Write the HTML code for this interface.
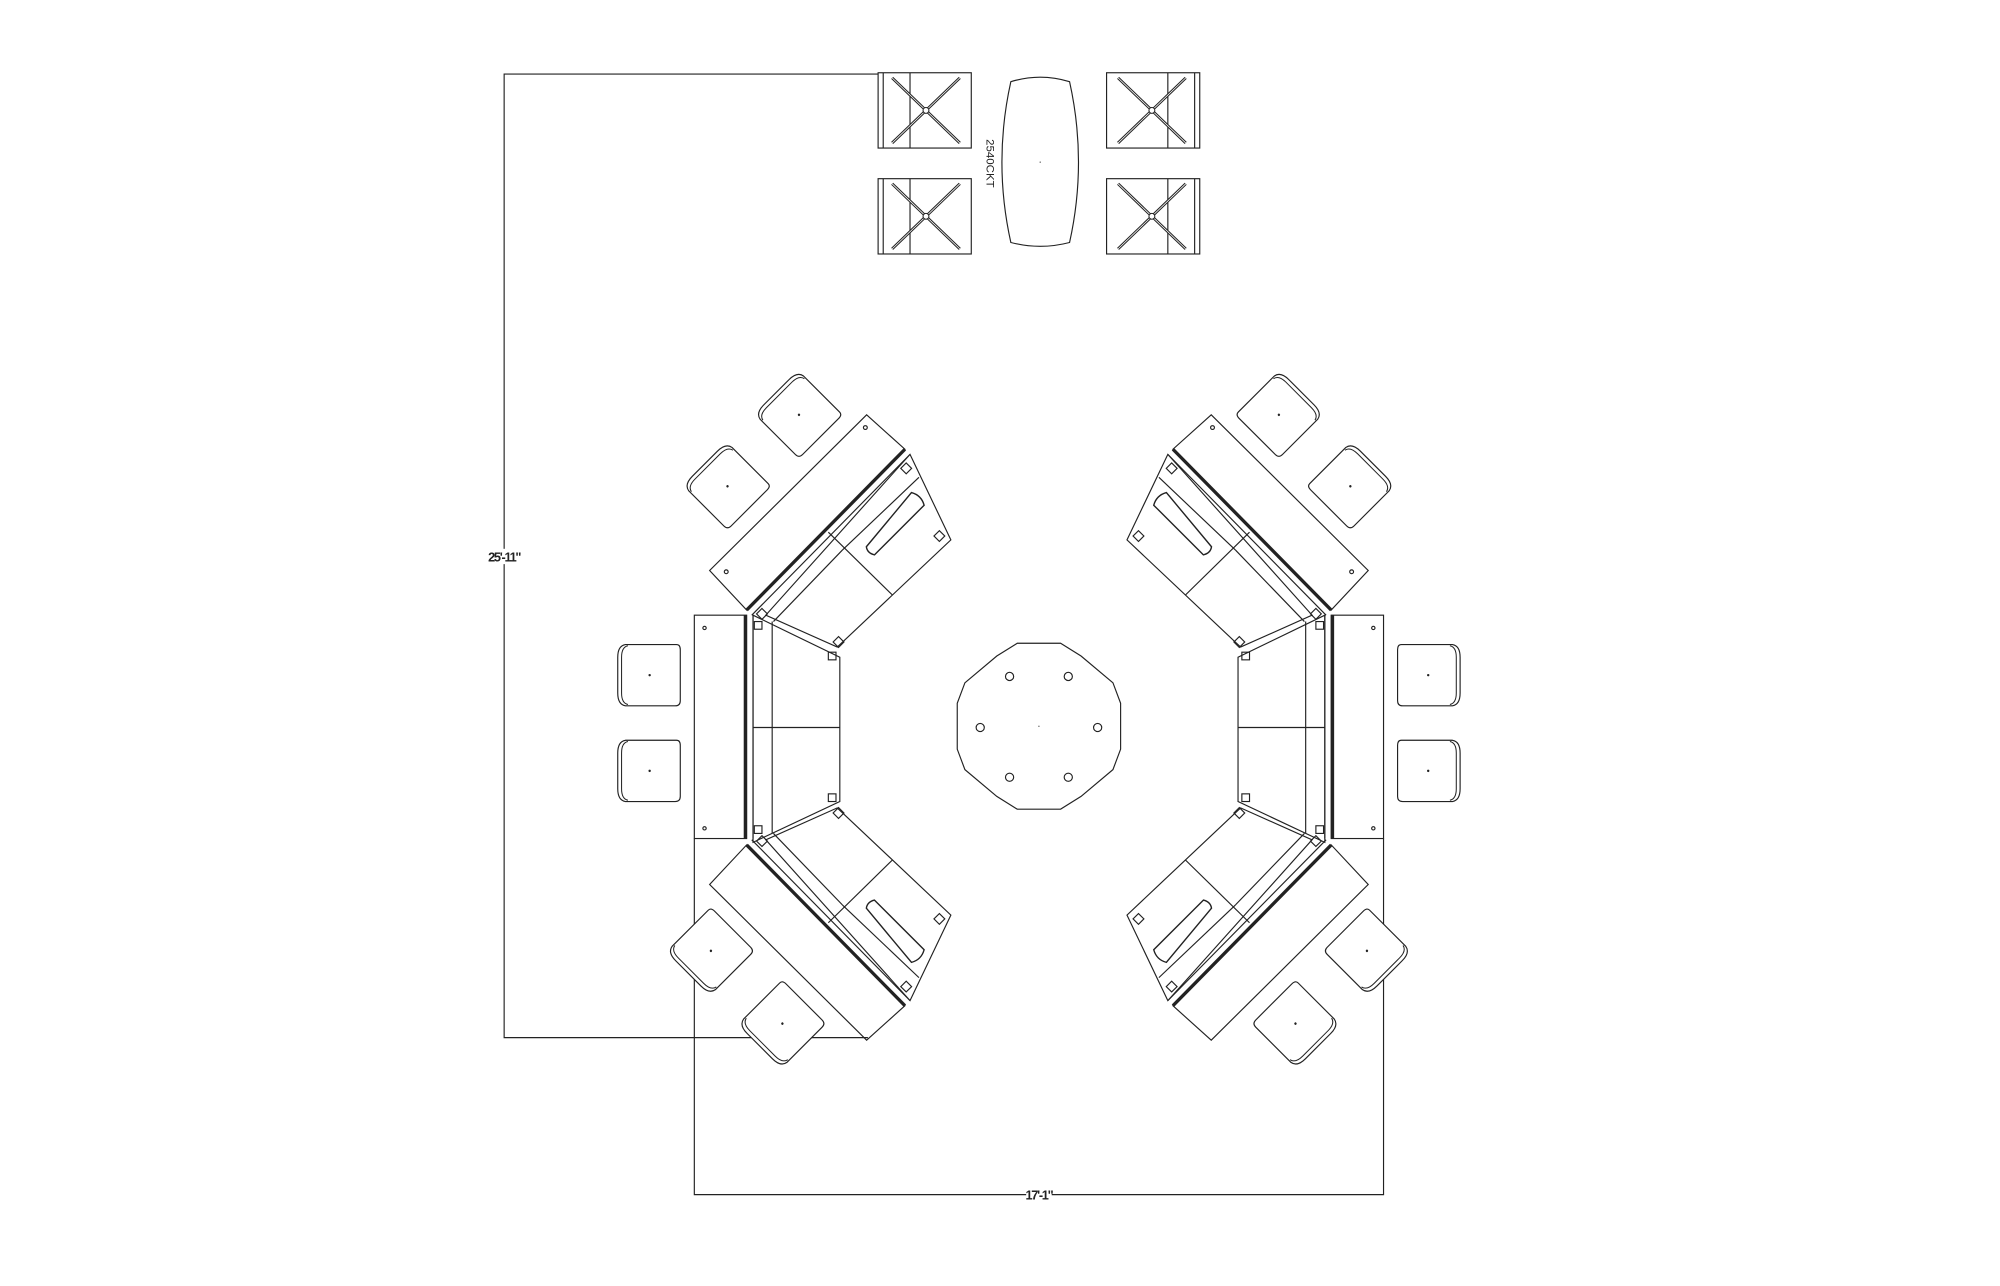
<!DOCTYPE html>
<html><head><meta charset="utf-8"><style>
html,body{margin:0;padding:0;background:#fff;}
svg{display:block;}
text{font-family:"Liberation Sans",sans-serif;}
</style></head><body>
<svg width="2000" height="1286" viewBox="0 0 1567 1007.6" preserveAspectRatio="none" xmlns="http://www.w3.org/2000/svg">
<defs>
<g id="sqchair">
  <rect x="0" y="0" width="73" height="59" fill="none" stroke="#222" stroke-width="0.9"/>
  <line x1="4" y1="0" x2="4" y2="59" stroke="#222" stroke-width="0.9"/>
  <line x1="25" y1="0" x2="25" y2="59" stroke="#222" stroke-width="0.9"/>
  <line x1="11" y1="4" x2="64" y2="55" stroke="#222" stroke-width="2.2"/>
  <line x1="11" y1="4" x2="64" y2="55" stroke="#fff" stroke-width="0.6"/>
  <line x1="64" y1="4" x2="11" y2="55" stroke="#222" stroke-width="2.2"/>
  <line x1="64" y1="4" x2="11" y2="55" stroke="#fff" stroke-width="0.6"/>
  <circle cx="37.5" cy="29.5" r="2.3" fill="#fff" stroke="#222" stroke-width="0.8"/>
</g>
<g id="chair">
  <path d="M6,0 L46,0 Q49,0 49,4 L49,44 Q49,48 45,48 L6,48 Q0,47 0,38 L0,10 Q0,1 6,0 Z" fill="#fff" stroke="#222" stroke-width="0.9"/>
  <path d="M8,1 Q3,2 3,10 L3,38 Q3,46 8,47" fill="none" stroke="#222" stroke-width="0.8"/>
  <circle cx="25" cy="24" r="0.5" fill="#444"/>
</g>
<g id="unit" fill="none" stroke="#222" stroke-width="0.9">
  <polygon points="679,325 709,352 585,478 556,447"/>
  <line x1="585" y1="478" x2="709" y2="352" stroke-width="2.6"/>
  <line x1="589" y1="482" x2="713" y2="356"/>
  <polygon points="713,356 745,423 656,507 600,482"/>
  <line x1="649" y1="417" x2="699" y2="466"/>
  <line x1="606" y1="487" x2="660" y2="431"/>
  <line x1="660" y1="431" x2="720" y2="374"/>
  <path transform="translate(700,410) rotate(-45)" d="M-28,-2 L27,-7 Q31,0 27,7 L-28,7 Q-31,2 -28,-2 Z" stroke-width="1.1"/>
  <rect x="707" y="364" width="6" height="6" transform="rotate(45 710 367)"/>
  <rect x="733" y="417" width="6" height="6" transform="rotate(45 736 420)"/>
  <rect x="654" y="500" width="6" height="6" transform="rotate(45 657 503)"/>
  <rect x="594" y="478" width="6" height="6" transform="rotate(45 597 481)"/>
</g>
<g id="half" fill="none" stroke="#222" stroke-width="0.9">
  <use href="#unit"/>
  <circle cx="569" cy="448" r="1.5"/>
  <circle cx="678" cy="335" r="1.5"/>
  <rect x="544" y="482" width="41" height="175"/>
  <line x1="584" y1="482" x2="584" y2="657" stroke-width="2.6"/>
  <line x1="590" y1="482" x2="590" y2="657"/>
  <polygon points="590,482 658,515 658,628 590,660"/>
  <line x1="605" y1="487" x2="605" y2="653"/>
  <line x1="590" y1="570" x2="658" y2="570"/>
  <rect x="591" y="487" width="6" height="6"/>
  <rect x="649" y="511" width="6" height="6"/>
  <rect x="649" y="622" width="6" height="6"/>
  <rect x="591" y="647" width="6" height="6"/>
  <circle cx="552" cy="492" r="1.3"/>
  <circle cx="552" cy="649" r="1.3"/>
  <use href="#unit" transform="matrix(1 0 0 -1 0 1140)"/>
  <use href="#chair" transform="translate(484,505)"/>
  <use href="#chair" transform="translate(484,580)"/>
  <use href="#chair" transform="translate(626,325) rotate(45) translate(-25,-24)"/>
  <use href="#chair" transform="translate(570,381) rotate(45) translate(-25,-24)"/>
  <use href="#chair" transform="translate(557,745) rotate(-45) translate(-25,-24)"/>
  <use href="#chair" transform="translate(613,802) rotate(-45) translate(-25,-24)"/>
</g>
</defs>
<rect width="1567" height="1008" fill="#fff"/>
<g fill="none" stroke="#222" stroke-width="0.9">
  <polyline points="688,58 395,58 395,813 680,813"/>
  <polyline points="544,657 544,936 1084,936 1084,657"/>
</g>
<rect x="385" y="430" width="20" height="12" fill="#fff"/>
<text x="395" y="440" font-size="10" font-weight="bold" text-anchor="middle" fill="#222" style="letter-spacing:-1px">25'-11"</text>
<rect x="804" y="930" width="20" height="10" fill="#fff"/>
<text x="814" y="940" font-size="10" font-weight="bold" text-anchor="middle" fill="#222" style="letter-spacing:-1px">17'-1"</text>
<use href="#sqchair" transform="translate(688,57)"/>
<use href="#sqchair" transform="translate(688,140)"/>
<use href="#sqchair" transform="translate(940,57) scale(-1,1)"/>
<use href="#sqchair" transform="translate(940,140) scale(-1,1)"/>
<path d="M792,64 Q815,57 838,64 Q852,127 838,190 Q815,196 792,190 Q778,127 792,64 Z" fill="none" stroke="#222" stroke-width="0.9"/>
<circle cx="815" cy="127" r="0.5" fill="#444"/>
<text x="0" y="0" font-size="9" fill="#222" transform="translate(773,128) rotate(90)" text-anchor="middle">2540CKT</text>
<use href="#half"/>
<use href="#half" transform="translate(1628,0) scale(-1,1)"/>
<polygon points="831,504 847,514 872,535 878,551 878,587 872,603 847,624 831,634 797,634 781,624 756,603 750,587 750,551 756,535 781,514 797,504" fill="none" stroke="#222" stroke-width="0.9"/>
<g fill="none" stroke="#222" stroke-width="0.9">
  <circle cx="791" cy="530" r="3.2"/><circle cx="837" cy="530" r="3.2"/>
  <circle cx="768" cy="570" r="3.2"/><circle cx="860" cy="570" r="3.2"/>
  <circle cx="791" cy="609" r="3.2"/><circle cx="837" cy="609" r="3.2"/>
</g>
<circle cx="814" cy="569" r="0.5" fill="#444"/>
</svg>
</body></html>
